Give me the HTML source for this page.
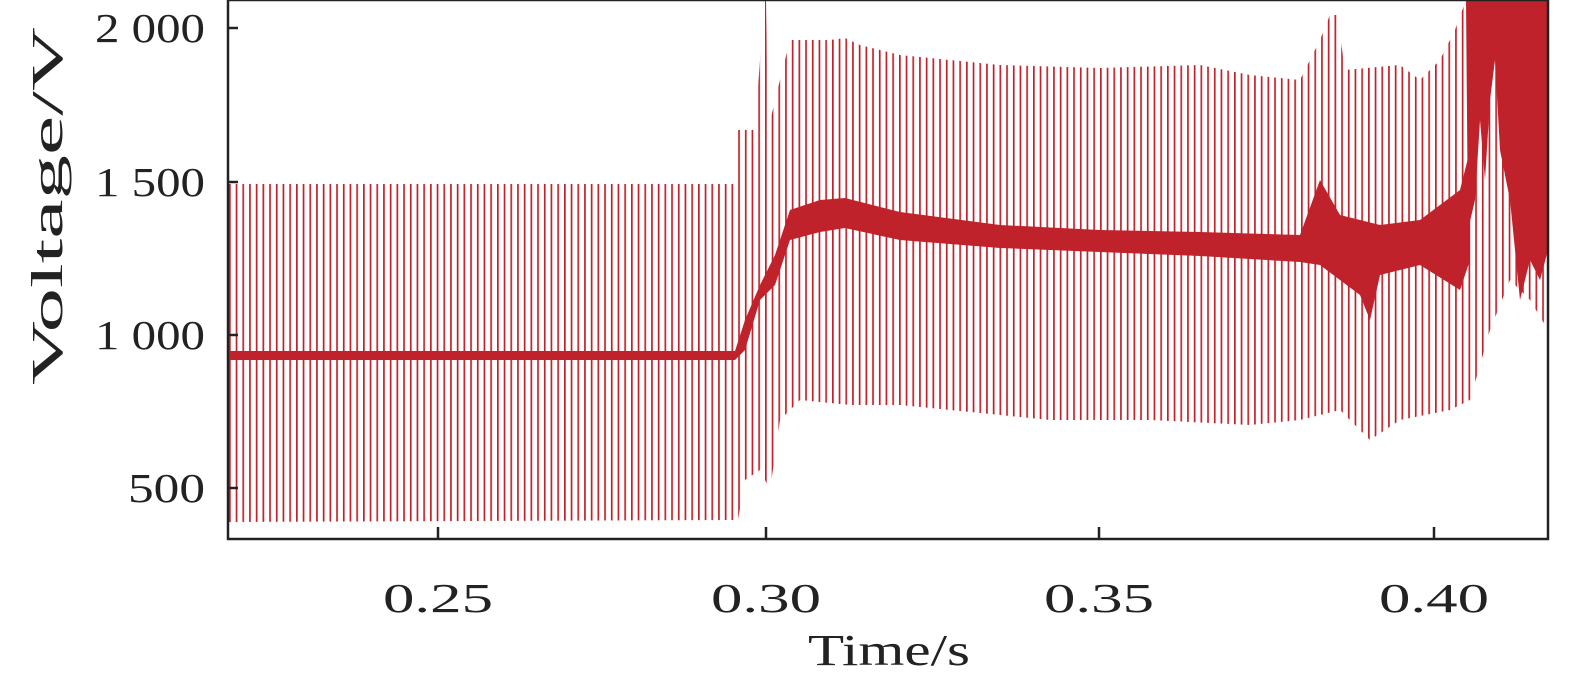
<!DOCTYPE html>
<html><head><meta charset="utf-8"><style>
body{margin:0;background:#fff}
svg{display:block}
text{font-family:"Liberation Serif",serif;fill:#222}
</style></head><body>
<svg width="1575" height="683" viewBox="0 0 1575 683" xmlns="http://www.w3.org/2000/svg">
<defs>
<clipPath id="c"><rect x="228" y="0" width="1320" height="539"/></clipPath>
<pattern id="v" patternUnits="userSpaceOnUse" x="229" y="0" width="6.7" height="683">
<rect x="0" y="0" width="1.7" height="683" fill="#c0222b"/>
</pattern>
</defs>
<g clip-path="url(#c)">
<polygon fill="url(#v)" points="228,184 735,184 738,130 755,130 760,60 763,0 766,0 768,130 780,80 790,40 830,40 845,38 860,45 900,55 1000,65 1100,68 1200,65 1250,75 1300,80 1320,40 1330,15 1337,15 1345,70 1400,65 1420,80 1440,60 1455,30 1466,0 1548,0 1548,330 1530,300 1510,280 1490,330 1470,400 1450,410 1400,420 1370,440 1340,410 1300,420 1250,425 1150,420 1050,420 1000,415 900,405 850,405 800,400 780,420 770,490 760,470 745,480 738,520 228,522"/>
<polygon fill="#c0222b" points="228,351 735,351 745,320 760,285 775,255 790,210 820,200 845,198 900,212 1000,225 1100,230 1200,232 1300,235 1320,180 1340,215 1380,225 1420,220 1460,190 1470,150 1470,260 1460,290 1420,265 1380,275 1370,320 1360,295 1340,280 1320,265 1300,262 1200,256 1100,252 1000,248 900,240 845,228 820,232 790,240 775,285 760,300 745,350 735,360 228,360"/>
<polygon fill="#c0222b" points="1466,0 1548,0 1548,250 1540,280 1530,260 1520,300 1510,200 1500,150 1495,60 1490,100 1485,180 1480,120 1475,200 1468,230"/>
</g>
<rect x="228" y="0" width="1320" height="539" fill="none" stroke="#222" stroke-width="2.5"/>
<g stroke="#222" stroke-width="2.5">
<line x1="228" y1="28" x2="238" y2="28"/><line x1="228" y1="182" x2="238" y2="182"/><line x1="228" y1="335" x2="238" y2="335"/><line x1="228" y1="488" x2="238" y2="488"/>
<line x1="438" y1="539" x2="438" y2="527"/><line x1="766" y1="539" x2="766" y2="527"/><line x1="1099" y1="539" x2="1099" y2="527"/><line x1="1434" y1="539" x2="1434" y2="527"/>
</g>
<g font-size="41" text-anchor="end">
<text x="205" y="42" textLength="110" lengthAdjust="spacingAndGlyphs">2 000</text>
<text x="205" y="196" textLength="110" lengthAdjust="spacingAndGlyphs">1 500</text>
<text x="205" y="349" textLength="110" lengthAdjust="spacingAndGlyphs">1 000</text>
<text x="205" y="502" textLength="77" lengthAdjust="spacingAndGlyphs">500</text>
</g>
<g font-size="41">
<text x="383" y="612" textLength="110" lengthAdjust="spacingAndGlyphs">0.25</text>
<text x="711" y="612" textLength="110" lengthAdjust="spacingAndGlyphs">0.30</text>
<text x="1044" y="612" textLength="110" lengthAdjust="spacingAndGlyphs">0.35</text>
<text x="1379" y="612" textLength="110" lengthAdjust="spacingAndGlyphs">0.40</text>
<text x="808" y="665" font-size="44" textLength="162" lengthAdjust="spacingAndGlyphs">Time/s</text>
<text transform="translate(62,385) rotate(-90)" font-size="44" textLength="358" lengthAdjust="spacingAndGlyphs">Voltage/V</text>
</g>
</svg>
</body></html>
